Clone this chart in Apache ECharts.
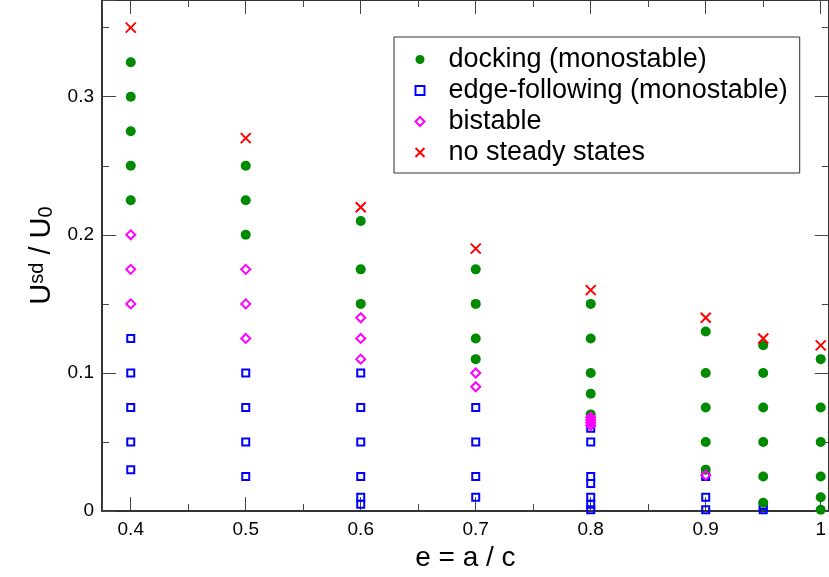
<!DOCTYPE html>
<html>
<head>
<meta charset="utf-8">
<script src="https://cdn.jsdelivr.net/npm/echarts@6/dist/echarts.min.js"></script>
<style>
  html, body { margin: 0; padding: 0; background: #fff; }
  #main { width: 829px; height: 577px; }
</style>
</head>
<body>
<div id="main"></div>
<script>
// 数据：[e, U^sd/U0]
var dockingPoints = [
  [0.4, 0.225], [0.4, 0.25], [0.4, 0.275], [0.4, 0.3], [0.4, 0.325],
  [0.5, 0.2], [0.5, 0.225], [0.5, 0.25],
  [0.6, 0.15], [0.6, 0.175], [0.6, 0.21],
  [0.7, 0.11], [0.7, 0.125], [0.7, 0.15], [0.7, 0.175],
  [0.8, 0.07], [0.8, 0.085], [0.8, 0.1], [0.8, 0.125], [0.8, 0.15],
  [0.9, 0.03], [0.9, 0.05], [0.9, 0.075], [0.9, 0.1], [0.9, 0.13],
  [0.95, 0.006], [0.95, 0.025], [0.95, 0.05], [0.95, 0.075], [0.95, 0.1], [0.95, 0.12],
  [1.0, 0.001], [1.0, 0.01], [1.0, 0.025], [1.0, 0.05], [1.0, 0.075], [1.0, 0.11]
];
var edgePoints = [
  [0.4, 0.03], [0.4, 0.05], [0.4, 0.075], [0.4, 0.1], [0.4, 0.125],
  [0.5, 0.025], [0.5, 0.05], [0.5, 0.075], [0.5, 0.1],
  [0.6, 0.005], [0.6, 0.01], [0.6, 0.025], [0.6, 0.05], [0.6, 0.075], [0.6, 0.1],
  [0.7, 0.01], [0.7, 0.025], [0.7, 0.05], [0.7, 0.075],
  [0.8, 0.001], [0.8, 0.005], [0.8, 0.01], [0.8, 0.02], [0.8, 0.025], [0.8, 0.05], [0.8, 0.06],
  [0.9, 0.001], [0.9, 0.01], [0.9, 0.025],
  [0.95, 0.001], [0.95, 0.004]
];
var bistablePoints = [
  [0.4, 0.15], [0.4, 0.175], [0.4, 0.2],
  [0.5, 0.125], [0.5, 0.15], [0.5, 0.175],
  [0.6, 0.11], [0.6, 0.125], [0.6, 0.14],
  [0.7, 0.09], [0.7, 0.1],
  [0.8, 0.062], [0.8, 0.064], [0.8, 0.066], [0.8, 0.068],
  [0.9, 0.026]
];
var noSteadyPoints = [
  [0.4, 0.35], [0.5, 0.27], [0.6, 0.22], [0.7, 0.19],
  [0.8, 0.16], [0.9, 0.14], [0.95, 0.125], [1.0, 0.12]
];

var font = 'Liberation Sans, Arial, Helvetica, sans-serif';

// 只显示 0.1 的整数倍刻度标签
function tenthLabel(v) {
  var k = Math.round(v * 10);
  return Math.abs(v * 10 - k) < 1e-6 ? String(k / 10) : '';
}

function makeAxis(isX, pos, showLabel) {
  // 刻度线用实线形式的 dash，避免被合批绘制
  var tickStyle = { color: '#444', width: 1, type: [100, 0] };
  return {
    type: 'value', position: pos,
    min: isX ? 0.375 : 0, max: isX ? 1.007 : 0.37, splitNumber: isX ? 6 : 4,
    axisLine: { show: true, onZero: false, lineStyle: { color: '#333', width: 2 } },
    axisTick: { show: true, inside: true, length: 14, lineStyle: tickStyle },
    minorTick: { show: true, splitNumber: 2, length: 7, lineStyle: tickStyle },
    axisLabel: { show: showLabel, formatter: tenthLabel, showMaxLabel: false,
      fontSize: 19, color: '#000', fontFamily: font, margin: isX ? 9 : 8 },
    splitLine: { show: false }
  };
}

var xBottom = makeAxis(true, 'bottom', true);
xBottom.name = 'e = a / c';
xBottom.nameLocation = 'middle';
xBottom.nameGap = 28;
xBottom.nameTextStyle = { fontSize: 28, color: '#000', fontFamily: font };

var yLeft = makeAxis(false, 'left', true);
yLeft.name = '{u|U}{sup|sd}{u| / U}{sub|0}';
yLeft.nameLocation = 'middle';
yLeft.nameRotate = 90;
yLeft.nameGap = 44;
yLeft.nameTextStyle = {
  color: '#000', fontFamily: font,
  rich: {
    u: { fontSize: 29, color: '#000', fontFamily: font },
    sup: { fontSize: 20, verticalAlign: 'top', color: '#000', fontFamily: font },
    sub: { fontSize: 20, verticalAlign: 'bottom', color: '#000', fontFamily: font }
  }
};

var myChart = echarts.init(document.getElementById('main'), null, { renderer: 'canvas' });
var option = {
  animation: false,
  backgroundColor: '#fff',
  grid: { left: 102, right: 0, top: 0, bottom: 63 },
  xAxis: [xBottom, makeAxis(true, 'top', false)],
  yAxis: [yLeft, makeAxis(false, 'right', false)],
  legend: {
    orient: 'vertical', left: 394, top: 37,
    padding: [9, 12, 7, 19],
    borderColor: '#333', borderWidth: 1,
    itemWidth: 9, itemHeight: 9, itemGap: 4,
    textStyle: { fontSize: 27, lineHeight: 27, color: '#000', fontFamily: font, padding: [0, 0, 0, 19] },
    data: [
      { name: 'docking (monostable)' },
      { name: 'edge-following (monostable)', icon: 'path://M0,0H10V10H0Z' },
      { name: 'bistable', icon: 'path://M5,0L10,5L5,10L0,5Z' },
      { name: 'no steady states' }
    ]
  },
  series: [
    {
      name: 'edge-following (monostable)', type: 'scatter', data: edgePoints,
      symbol: 'rect', symbolSize: 7,
      itemStyle: { color: 'none', borderColor: '#0000ff', borderWidth: 2, opacity: 1 }
    },
    {
      name: 'docking (monostable)', type: 'scatter', data: dockingPoints,
      symbol: 'circle', symbolSize: 10,
      itemStyle: { color: '#008a00', opacity: 1 }
    },
    {
      name: 'bistable', type: 'scatter', data: bistablePoints,
      symbol: 'diamond', symbolSize: 9,
      itemStyle: { color: 'none', borderColor: '#ff00ff', borderWidth: 2, opacity: 1 }
    },
    {
      name: 'no steady states', type: 'scatter', data: noSteadyPoints,
      symbol: 'path://M0,0L10,10M10,0L0,10', symbolSize: 10,
      itemStyle: { color: 'none', borderColor: '#ff0000', borderWidth: 2, opacity: 1 }
    }
  ]
};
myChart.setOption(option);
</script>
</body>
</html>
